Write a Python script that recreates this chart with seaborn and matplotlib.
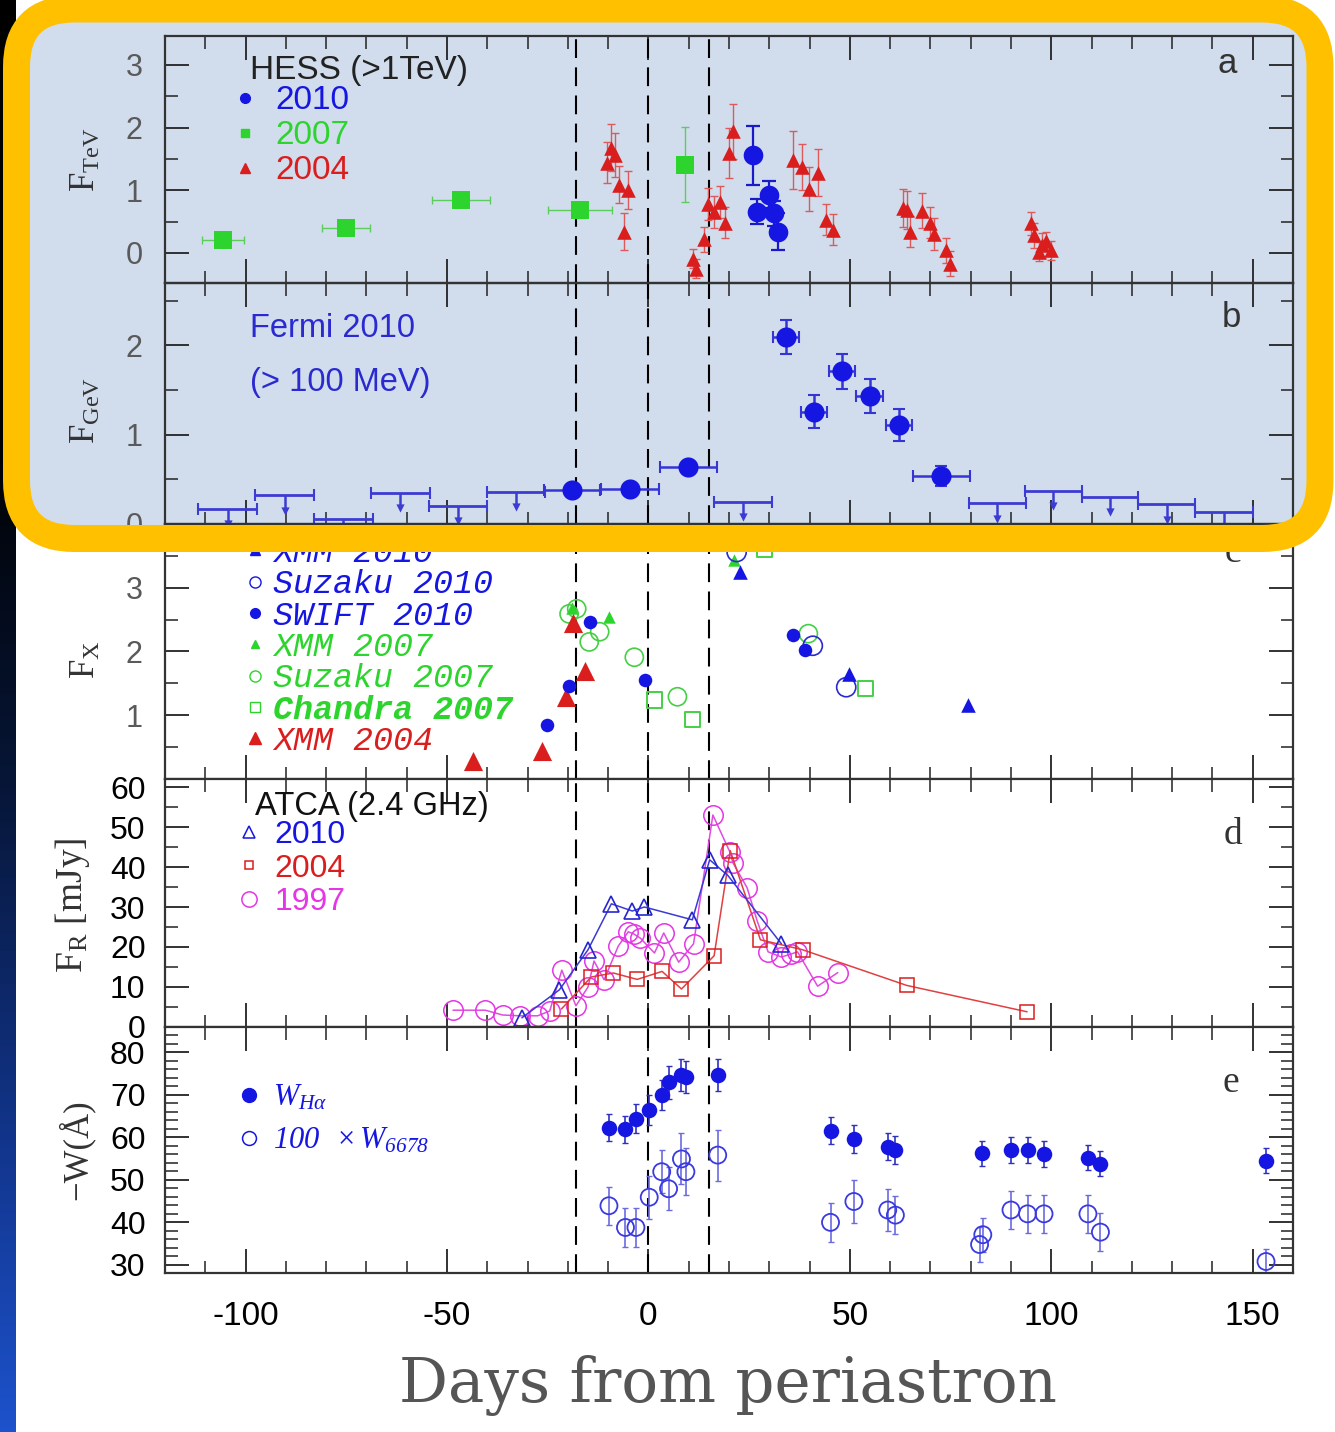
import numpy as np
import matplotlib
matplotlib.use("Agg")
import matplotlib.pyplot as plt
import seaborn as sns
from matplotlib.patches import FancyBboxPatch
from matplotlib.ticker import MultipleLocator, FixedLocator
from matplotlib.colors import LinearSegmentedColormap
from matplotlib.lines import Line2D

# ---------------- data ----------------
# (a) HESS > 1 TeV
hess10_day = [26.0, 27.0, 30.0, 31.1, 32.1]
hess10_flux = [1.56, 0.66, 0.93, 0.63, 0.34]
hess10_err = [0.47, 0.20, 0.22, 0.20, 0.30]

hess07_day = [-105.5, -75.0, -46.5, -17.0, 9.0]
hess07_flux = [0.20, 0.40, 0.85, 0.68, 1.41]
hess07_xerr = [5.2, 6.0, 7.2, 8.0, 0.0]
hess07_yerr = [0.10, 0.08, 0.08, 0.12, 0.60]

hess04_day = [-10.3, -9.2, -8.3, -7.3, -5.1, -6.1, 11.1, 11.9, 13.8, 14.9, 16.3, 17.8,
              18.9, 20.0, 20.9, 36.0, 38.0, 39.9, 42.1, 44.1, 45.9, 63.3, 64.1, 65.0,
              68.0, 70.0, 70.9, 73.9, 74.9, 94.9, 95.8, 96.9, 97.8, 98.7, 100.0]
hess04_flux = [1.44, 1.68, 1.56, 1.09, 1.00, 0.34, -0.09, -0.25, 0.22, 0.78, 0.65, 0.81,
               0.48, 1.59, 1.94, 1.48, 1.37, 1.02, 1.28, 0.53, 0.37, 0.72, 0.68, 0.34,
               0.67, 0.48, 0.30, 0.04, -0.17, 0.47, 0.28, 0.02, 0.12, 0.19, 0.04]
hess04_err = [0.33, 0.38, 0.35, 0.30, 0.30, 0.30, 0.15, 0.15, 0.20, 0.25, 0.25, 0.25,
              0.25, 0.40, 0.44, 0.46, 0.37, 0.35, 0.38, 0.25, 0.25, 0.30, 0.30, 0.25,
              0.28, 0.25, 0.25, 0.20, 0.20, 0.18, 0.20, 0.15, 0.20, 0.15, 0.15]

# (b) Fermi-LAT > 100 MeV
fermi_day = [-19.0, -4.6, 9.9, 34.1, 41.1, 48.0, 54.9, 62.2, 72.7]
fermi_flux = [0.38, 0.39, 0.64, 2.10, 1.26, 1.71, 1.43, 1.11, 0.54]
fermi_xerr = [7.0, 7.2, 7.0, 3.3, 3.3, 3.3, 3.3, 3.3, 7.0]
fermi_yerr = [0.06, 0.06, 0.06, 0.19, 0.18, 0.20, 0.19, 0.18, 0.11]
fermi_ul_day = [-104.4, -90.3, -75.7, -61.6, -47.3, -32.9, 23.4, 86.6, 100.5, 114.6, 128.6, 142.8]
fermi_ul_flux = [0.17, 0.32, 0.06, 0.35, 0.20, 0.36, 0.25, 0.23, 0.37, 0.30, 0.22, 0.13]
fermi_ul_xerr = [7.3, 7.3, 7.3, 7.3, 7.2, 7.2, 7.2, 7.0, 7.0, 7.0, 7.0, 7.2]

# (c) X-ray flux
xmm10_day = [22.8, 49.9, 79.3]
xmm10_flux = [3.24, 1.64, 1.16]
suz10_day = [21.9, 40.8, 49.1]
suz10_flux = [3.56, 2.09, 1.44]
swift10_day = [-25.3, -19.7, -14.4, -0.8, 36.0, 38.8]
swift10_flux = [0.84, 1.46, 2.47, 1.55, 2.26, 2.03]
xmm07_day = [-18.9, -9.8, 21.3]
xmm07_flux = [2.69, 2.54, 3.43]
suz07_day = [-19.7, -17.8, -14.7, -12.1, -3.5, 7.2, 39.7]
suz07_flux = [2.59, 2.67, 2.15, 2.31, 1.91, 1.29, 2.28]
chandra07_day = [1.5, 11.0, 28.9, 53.8]
chandra07_flux = [1.24, 0.93, 3.60, 1.42]
xmm04_day = [-43.5, -26.5, -20.4, -18.7, -15.8]
xmm04_flux = [0.28, 0.44, 1.28, 2.45, 1.70]

# (d) ATCA 2.4 GHz radio flux (mJy)
atca10_day = [-31.4, -22.1, -15.0, -9.2, -4.0, -1.0, 10.9, 15.2, 19.7, 33.0]
atca10_flux = [2.3, 9.3, 19.3, 30.8, 29.0, 30.0, 26.8, 41.8, 37.9, 20.8]
atca04_day = [-21.6, -14.2, -8.7, -2.8, 3.4, 8.2, 16.3, 20.3, 27.8, 38.3, 64.1, 94.0]
atca04_flux = [4.5, 12.5, 13.5, 11.9, 13.9, 9.5, 17.8, 44.1, 21.8, 19.3, 10.4, 3.8]
atca97_day = [-48.5, -40.5, -36.2, -32.0, -27.5, -24.5, -21.5, -18.0, -15.0, -13.5, -11.0,
              -7.5, -5.0, -3.5, -2.0, 1.5, 3.8, 7.5, 11.2, 16.0, 20.2, 21.0, 24.5, 27.0,
              29.7, 33.0, 35.3, 37.0, 42.0, 47.0]
atca97_flux = [4.2, 4.2, 3.0, 2.8, 2.8, 4.0, 14.2, 5.3, 10.0, 16.5, 11.8,
               20.2, 23.8, 23.2, 22.2, 18.5, 23.5, 16.2, 20.8, 53.0, 43.8, 41.0, 34.8, 26.5,
               18.8, 17.5, 18.2, 18.8, 10.2, 13.6]

# (e) equivalent widths
wha_day = [-9.8, -5.7, -3.1, 0.2, 3.3, 5.0, 8.2, 9.3, 17.2, 45.2, 51.0, 59.4, 61.3,
           82.7, 90.0, 94.1, 98.2, 109.1, 112.2, 153.3]
wha_val = [62.2, 61.9, 64.4, 66.4, 69.9, 72.9, 74.6, 74.2, 74.6, 61.5, 59.6, 57.8, 57.0,
           56.2, 57.0, 57.0, 56.0, 55.2, 53.8, 54.5]
wha_err = [3.2, 3.2, 3.5, 3.5, 3.5, 3.8, 3.8, 3.8, 3.8, 3.2, 3.2, 3.2, 3.2,
           3.0, 3.0, 3.0, 3.0, 3.0, 3.0, 3.0]
he_day = [-9.8, -5.7, -3.1, 0.2, 3.3, 5.0, 8.2, 9.3, 17.2, 45.2, 51.0, 59.4, 61.3,
          82.2, 83.0, 90.0, 94.1, 98.2, 109.1, 112.2, 153.3]
he_val = [43.9, 38.8, 38.8, 45.9, 51.9, 47.9, 54.9, 51.9, 55.8, 40.0, 44.9, 42.9, 41.7,
          34.8, 37.1, 42.9, 42.0, 42.0, 42.0, 37.7, 30.8]
he_err = [4.5, 4.5, 4.5, 5.0, 5.0, 5.0, 6.0, 5.5, 6.0, 4.5, 5.0, 5.0, 4.5,
          4.0, 4.0, 4.5, 4.5, 4.5, 4.5, 4.5, 3.0]

# dashed reference epochs
mark_days = [-18, 0, 15]

# ---------------- style ----------------
sns.set_theme(style="ticks")
plt.rcParams.update({
    "font.family": ["Liberation Sans", "DejaVu Sans"],
    "axes.unicode_minus": False,
    "mathtext.fontset": "custom",
    "mathtext.rm": "Liberation Serif",
    "mathtext.it": "Liberation Serif:italic",
    "mathtext.bf": "Liberation Serif:bold",
    "mathtext.sf": "Liberation Serif:italic",
})

BLUE = "#1616e2"
GREEN = "#2ed42e"
RED = "#da1e1e"
MAGENTA = "#e436e4"
PANEL_BG = "#d1ddec"
ORANGE = "#ffc000"
SERIF = ["Liberation Serif", "DejaVu Serif"]
MONO = ["Liberation Mono", "DejaVu Sans Mono"]

W, H, DPI = 1335, 1432, 100
fig = plt.figure(figsize=(W / DPI, H / DPI), dpi=DPI)
fig.patch.set_facecolor("white")


def rect(top, bottom, left=165, right=1293):
    return [left / W, 1 - bottom / H, (right - left) / W, (bottom - top) / H]


rows = [(36, 283), (283, 524), (524, 779), (779, 1027), (1027, 1273)]
axes = []
for top, bottom in rows:
    ax = fig.add_axes(rect(top, bottom), sharex=axes[0] if axes else None)
    axes.append(ax)
ax_a, ax_b, ax_c, ax_d, ax_e = axes

# left slide edge
gax = fig.add_axes([0, 0, 16 / W, 1], zorder=-10)
bg_cmap = LinearSegmentedColormap.from_list(
    "edge", [(0, "#000000"), (0.3, "#000000"), (0.55, "#071638"), (0.8, "#12358c"), (1, "#1d52cc")])
gax.imshow(np.linspace(0, 1, 256)[:, None], aspect="auto", cmap=bg_cmap, extent=[0, 1, 1, 0])
gax.axis("off")

# highlighted region behind panels a and b
x0, y0, x1, y1 = 16.5, 9, 1320, 538.5
box = ((x0 / DPI, (H - y1) / DPI), (x1 - x0) / DPI, (y1 - y0) / DPI)
fig.add_artist(FancyBboxPatch(*box, boxstyle="round,pad=0,rounding_size=0.58",
                              transform=fig.dpi_scale_trans, facecolor=PANEL_BG,
                              edgecolor="none", zorder=-5))
fig.add_artist(FancyBboxPatch(*box, boxstyle="round,pad=0,rounding_size=0.58",
                              transform=fig.dpi_scale_trans, facecolor="none",
                              edgecolor=ORANGE, linewidth=27 * 72 / DPI, zorder=20))

for ax in axes:
    ax.set_xlim(-120, 160)
    ax.xaxis.set_major_locator(MultipleLocator(50))
    ax.xaxis.set_minor_locator(MultipleLocator(10))
    ax.tick_params(which="both", direction="in", top=True, right=True, bottom=True,
                   left=True, color="#222222")
    ax.tick_params(which="major", length=17, width=1.3)
    ax.tick_params(which="minor", length=9, width=1.1)
    for sp in ax.spines.values():
        sp.set_linewidth(1.6)
        sp.set_color("#333333")
    for d in mark_days:
        ax.axvline(d, color="black", lw=1.5, ls=(0, (9, 4.5)), zorder=1)
for ax in axes[:-1]:
    ax.tick_params(labelbottom=False)
ax_a.set_facecolor("none")
ax_b.set_facecolor("none")

for ax in (ax_a, ax_b, ax_c):
    ax.tick_params(axis="y", labelsize=22, labelcolor="#5a5a5a", pad=16)
for ax in (ax_d, ax_e):
    ax.tick_params(axis="y", labelsize=23, labelcolor="black", pad=14)
ax_e.tick_params(axis="x", labelsize=24, labelcolor="black", pad=20)
for lab in ax_e.get_xticklabels():
    lab.set_fontfamily(["Liberation Sans Narrow", "Liberation Sans"])

# ---------------- (a) ----------------
ax = ax_a
ax.errorbar(hess04_day, hess04_flux, yerr=hess04_err, fmt="none", ecolor="#dc5a5a",
            elinewidth=1.0, capsize=3, capthick=1.0, zorder=2)
ax.errorbar(hess07_day, hess07_flux, xerr=hess07_xerr, yerr=hess07_yerr, fmt="none",
            ecolor="#5ccc5c", elinewidth=1.0, capsize=3, capthick=1.0, zorder=2)
ax.errorbar(hess10_day, hess10_flux, yerr=hess10_err, fmt="none", ecolor="#1a1ac8",
            elinewidth=1.6, capsize=5, capthick=1.6, zorder=2)
sns.scatterplot(x=hess07_day, y=hess07_flux, ax=ax, marker="s", s=150, color=GREEN,
                edgecolor=GREEN, linewidth=0, legend=False, zorder=3)
sns.scatterplot(x=hess04_day, y=hess04_flux, ax=ax, marker="^", s=110, color=RED,
                edgecolor=RED, linewidth=0, legend=False, zorder=3)
sns.scatterplot(x=hess10_day, y=hess10_flux, ax=ax, marker="o", s=200, color=BLUE,
                edgecolor=BLUE, linewidth=0, legend=False, zorder=4)
ax.set_ylim(-0.48, 3.46)
ax.yaxis.set_major_locator(FixedLocator([0, 1, 2, 3]))
ax.yaxis.set_minor_locator(MultipleLocator(0.5))
ax.text(0.075, 0.86, "HESS (>1TeV)", transform=ax.transAxes, fontsize=24,
        color="#222222", va="center", ha="left")
leg_a = [Line2D([], [], ls="none", marker="o", ms=7, color=BLUE),
         Line2D([], [], ls="none", marker="s", ms=6, color=GREEN),
         Line2D([], [], ls="none", marker="^", ms=7, color=RED)]
ax.legend(leg_a, ["2010", "2007", "2004"], loc="upper left", bbox_to_anchor=(0.062, 0.80),
          frameon=False, fontsize=24, labelcolor=[BLUE, GREEN, RED], handlelength=0.6,
          handletextpad=0.6, labelspacing=0.12, borderpad=0, borderaxespad=0)
ax.text(0.942, 0.89, "a", transform=ax.transAxes, fontsize=25, color="#333333",
        ha="center", va="center")

# ---------------- (b) ----------------
ax = ax_b
UL_BLUE = "#3c3cd2"
UL_DROP = 0.17
ul_tip = np.array(fermi_ul_flux) - UL_DROP
ax.errorbar(fermi_ul_day, fermi_ul_flux, xerr=fermi_ul_xerr, fmt="none", ecolor=UL_BLUE,
            elinewidth=2.0, capsize=4, capthick=1.5, zorder=2)
ax.vlines(fermi_ul_day, ul_tip, fermi_ul_flux, color=UL_BLUE, lw=1.8, zorder=2)
sns.scatterplot(x=fermi_ul_day, y=ul_tip, ax=ax, marker="v", s=35, color=UL_BLUE,
                edgecolor=UL_BLUE, linewidth=0, legend=False, zorder=2)
ax.errorbar(fermi_day, fermi_flux, xerr=fermi_xerr, yerr=fermi_yerr, fmt="none",
            ecolor="#3535d5", elinewidth=1.8, capsize=4, capthick=1.5, zorder=2)
sns.scatterplot(x=fermi_day, y=fermi_flux, ax=ax, marker="o", s=210, color=BLUE,
                edgecolor=BLUE, linewidth=0, legend=False, zorder=3)
ax.set_ylim(0, 2.70)
ax.yaxis.set_major_locator(FixedLocator([0, 1, 2]))
ax.yaxis.set_minor_locator(MultipleLocator(0.5))
ax.text(0.075, 0.81, "Fermi 2010", transform=ax.transAxes, fontsize=23.5,
        color="#2a2ad0", va="center", ha="left")
ax.text(0.075, 0.586, "(> 100 MeV)", transform=ax.transAxes, fontsize=23.5,
        color="#2a2ad0", va="center", ha="left")
ax.text(0.945, 0.855, "b", transform=ax.transAxes, fontsize=25, color="#333333",
        ha="center", va="center")

# ---------------- (c) ----------------
ax = ax_c
ax.errorbar(swift10_day, swift10_flux, yerr=0.08, fmt="none", ecolor="#3030c0",
            elinewidth=1.0, capsize=0, zorder=2)
sns.scatterplot(x=suz07_day, y=suz07_flux, ax=ax, marker="o", s=170, facecolor="none",
                edgecolor="#45cf45", linewidth=1.2, legend=False, zorder=3)
sns.scatterplot(x=chandra07_day, y=chandra07_flux, ax=ax, marker="s", s=120, facecolor="none",
                edgecolor="#45cf45", linewidth=1.4, legend=False, zorder=3)
sns.scatterplot(x=xmm07_day, y=xmm07_flux, ax=ax, marker="^", s=80, color=GREEN,
                edgecolor=GREEN, linewidth=0, legend=False, zorder=3)
sns.scatterplot(x=xmm04_day, y=xmm04_flux, ax=ax, marker="^", s=190, color=RED,
                edgecolor=RED, linewidth=0, legend=False, zorder=3)
sns.scatterplot(x=suz10_day, y=suz10_flux, ax=ax, marker="o", s=190, facecolor="none",
                edgecolor="#2a2ad0", linewidth=1.2, legend=False, zorder=3)
sns.scatterplot(x=swift10_day, y=swift10_flux, ax=ax, marker="o", s=95, color=BLUE,
                edgecolor=BLUE, linewidth=0, legend=False, zorder=4)
sns.scatterplot(x=xmm10_day, y=xmm10_flux, ax=ax, marker="^", s=110, color=BLUE,
                edgecolor=BLUE, linewidth=0, legend=False, zorder=4)
ax.set_ylim(0, 4.0)
ax.yaxis.set_major_locator(FixedLocator([1, 2, 3]))
ax.yaxis.set_minor_locator(MultipleLocator(0.5))
leg_c = [Line2D([], [], ls="none", marker="^", ms=7, color=BLUE),
         Line2D([], [], ls="none", marker="o", ms=8, mfc="none", mec=BLUE, mew=1.0),
         Line2D([], [], ls="none", marker="o", ms=7, color=BLUE),
         Line2D([], [], ls="none", marker="^", ms=6, color=GREEN),
         Line2D([], [], ls="none", marker="o", ms=8, mfc="none", mec=GREEN, mew=1.0),
         Line2D([], [], ls="none", marker="s", ms=7, mfc="none", mec=GREEN, mew=1.0),
         Line2D([], [], ls="none", marker="^", ms=8, color=RED)]
lab_c = ["XMM 2010", "Suzaku 2010", "SWIFT 2010", "XMM 2007", "Suzaku 2007",
         "Chandra 2007", "XMM 2004"]
leg = ax.legend(leg_c, lab_c, loc="upper left", bbox_to_anchor=(0.072, 0.945), frameon=False,
                prop={"family": MONO, "style": "italic", "size": 24},
                labelcolor=[BLUE, BLUE, BLUE, GREEN, GREEN, GREEN, RED],
                handlelength=0.5, handletextpad=0.3, labelspacing=0.01,
                borderpad=0, borderaxespad=0)
leg.get_texts()[5].set_fontweight("bold")
ax.text(0.947, 0.886, "c", transform=ax.transAxes, fontsize=27, color="#333333",
        ha="center", va="center", family=SERIF)

# ---------------- (d) ----------------
ax = ax_d
sns.lineplot(x=atca97_day, y=atca97_flux, ax=ax, color="#e04ce0", lw=1.1, marker="o",
             markersize=14, markerfacecolor="none", markeredgecolor=MAGENTA,
             markeredgewidth=1.1, estimator=None, sort=False, legend=False, zorder=2)
sns.lineplot(x=atca04_day, y=atca04_flux, ax=ax, color="#e04040", lw=1.1, marker="s",
             markersize=9.5, markerfacecolor="none", markeredgecolor=RED,
             markeredgewidth=1.1, estimator=None, sort=False, legend=False, zorder=3)
sns.lineplot(x=atca10_day, y=atca10_flux, ax=ax, color="#3a3ad6", lw=1.1, marker="^",
             markersize=11.5, markerfacecolor="none", markeredgecolor="#2626d0",
             markeredgewidth=1.2, estimator=None, sort=False, legend=False, zorder=4)
ax.set_ylim(0, 62)
ax.yaxis.set_major_locator(MultipleLocator(10))
ax.yaxis.set_minor_locator(MultipleLocator(5))
ax.text(0.080, 0.89, "ATCA (2.4 GHz)", transform=ax.transAxes, fontsize=23.5,
        color="#111111", va="center", ha="left")
leg_d = [Line2D([], [], ls="none", marker="^", ms=8, mfc="none", mec=BLUE, mew=1.1),
         Line2D([], [], ls="none", marker="s", ms=6, mfc="none", mec=RED, mew=1.1),
         Line2D([], [], ls="none", marker="o", ms=11, mfc="none", mec=MAGENTA, mew=1.1)]
ax.legend(leg_d, ["2010", "2004", "1997"], loc="upper left", bbox_to_anchor=(0.066, 0.833),
          frameon=False, fontsize=23, labelcolor=[BLUE, RED, MAGENTA], handlelength=0.6,
          handletextpad=0.5, labelspacing=0.1, borderpad=0, borderaxespad=0)
ax.text(0.947, 0.774, "d", transform=ax.transAxes, fontsize=27, color="#333333",
        ha="center", va="center", family=SERIF)

# ---------------- (e) ----------------
ax = ax_e
ax.errorbar(he_day, he_val, yerr=he_err, fmt="none", ecolor="#6b6be0", elinewidth=1.2,
            capsize=2.5, capthick=1.0, zorder=2)
sns.scatterplot(x=he_day, y=he_val, ax=ax, marker="o", s=150, facecolor="none",
                edgecolor="#3a3ae0", linewidth=1.3, legend=False, zorder=3)
ax.errorbar(wha_day, wha_val, yerr=wha_err, fmt="none", ecolor="#3030c0", elinewidth=1.2,
            capsize=2.5, capthick=1.0, zorder=2)
sns.scatterplot(x=wha_day, y=wha_val, ax=ax, marker="o", s=125, color=BLUE,
                edgecolor=BLUE, linewidth=0, legend=False, zorder=4)
ax.set_ylim(28.1, 85.9)
ax.yaxis.set_major_locator(MultipleLocator(10))
ax.yaxis.set_minor_locator(MultipleLocator(2))
leg_e = [Line2D([], [], ls="none", marker="o", ms=10, color=BLUE),
         Line2D([], [], ls="none", marker="o", ms=10, mfc="none", mec=BLUE, mew=1.1)]
ax.legend(leg_e, [r"$W_{H\alpha}$", r"$\mathsf{100}\ \ \times W_{\mathsf{6678}}$"],
          loc="upper left", bbox_to_anchor=(0.066, 0.775), frameon=False, fontsize=22,
          labelcolor=[BLUE, BLUE], handlelength=0.6, handletextpad=0.5, labelspacing=0.43,
          borderpad=0, borderaxespad=0)
ax.text(0.945, 0.772, "e", transform=ax.transAxes, fontsize=27, color="#333333",
        ha="center", va="center", family=SERIF)

# ---------------- axis titles ----------------
def fig_text(x, y, s, **kw):
    fig.text(x / W, 1 - y / H, s, ha="center", va="center", **kw)


ylab = dict(rotation=90, fontsize=25, color="#333333", family=SERIF)
fig_text(86, 160, r"F$_\mathregular{TeV}$", **ylab)
fig_text(86, 410, r"F$_\mathregular{GeV}$", **ylab)
fig_text(86, 660, r"F$_\mathregular{X}$", **ylab)
fig_text(72, 905, r"F$_\mathregular{R}$ [mJy]", rotation=90, fontsize=27,
         color="#333333", family=SERIF)
fig_text(76, 1150, "\u2212W(\u00c5)", **ylab)
fig_text(728, 1385, "Days from periastron", fontsize=44, color="#555555",
         family=["DejaVu Serif"])

fig.savefig("out.png", dpi=DPI, facecolor="white")
